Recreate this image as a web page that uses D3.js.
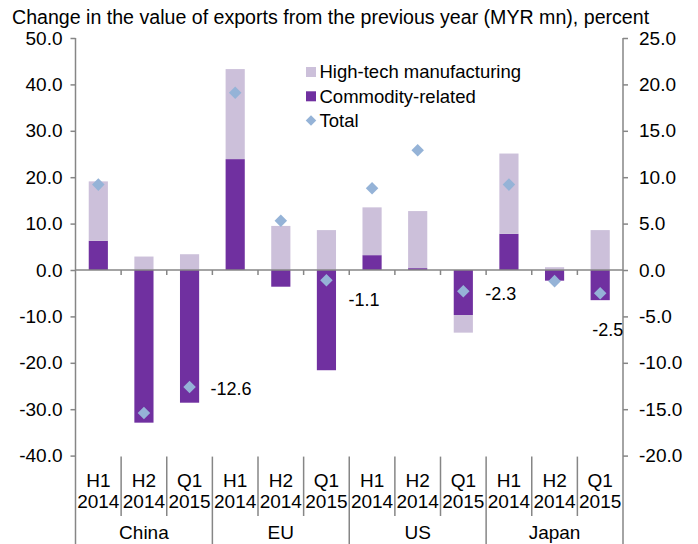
<!DOCTYPE html>
<html>
<head>
<meta charset="utf-8">
<script src="https://cdn.jsdelivr.net/npm/d3@7"></script>
<style>
  body { margin: 0; background: #fff; }
  svg text { font-family: Arial, "Liberation Sans", sans-serif; fill: #000; }
</style>
</head>
<body>
<div id="chart"></div>
<script>
// regions and periods
const groups = ["China", "EU", "US", "Japan"];
const periods = [["H1", "2014"], ["H2", "2014"], ["Q1", "2015"]];

// values (left axis, percent)
const commodity = [6.3, -32.9, -28.6, 23.9, -3.6, -21.6, 3.2, 0.4, -9.7, 7.8, -2.3, -6.5];
const highTech = [12.8, 2.9, 3.4, 19.4, 9.5, 8.6, 10.3, 12.3, -3.8, 17.3, 0.6, 8.6];
// total, right axis
const total = [9.2, -15.4, -12.6, 19.1, 5.3, -1.1, 8.8, 12.9, -2.3, 9.2, -1.2, -2.5];

const leftTicks = [-40, -30, -20, -10, 0, 10, 20, 30, 40, 50];
const rightTicks = [-20, -15, -10, -5, 0, 5, 10, 15, 20, 25];

const W = 698, H = 544;
const colHigh = "#ccc0da", colComm = "#7030a0", colTotal = "#95b3d7", axisCol = "#868686";

// plain hyphen for negatives, like the original
const fmt = d3.formatLocale({ decimal: ".", thousands: ",", grouping: [3], currency: ["", ""], minus: "-" }).format(".1f");

const svg = d3.select("#chart").append("svg").attr("width", W).attr("height", H);

const keys = [];
groups.forEach(g => periods.forEach(p => keys.push(g + " " + p.join(" "))));

const rows = keys.map((k, i) => ({ key: k, commodity: commodity[i], highTech: highTech[i], total: total[i] }));

const x = d3.scaleBand().domain(keys).range([75.5, 623]).paddingInner(0.58).paddingOuter(0.29);
const y = d3.scaleLinear().domain([-40, 50]).range([455.6, 38]);
const y2 = d3.scaleLinear().domain([-20, 25]).range([455.6, 38]);

const x0 = x.range()[0], step = x.step();
const bound = i => x0 + i * step;

// title
svg.append("text").attr("x", 12).attr("y", 24).style("font-size", "19.6px")
  .text("Change in the value of exports from the previous year (MYR mn), percent");

// stacked bars
const stack = d3.stack().keys(["commodity", "highTech"]).offset(d3.stackOffsetDiverging)(rows);
const colors = { commodity: colComm, highTech: colHigh };

svg.append("g").selectAll("g").data(stack).join("g")
  .attr("fill", d => colors[d.key])
  .selectAll("rect").data(d => d).join("rect")
  .attr("x", d => x(d.data.key))
  .attr("width", x.bandwidth())
  .attr("y", d => y(Math.max(d[0], d[1])))
  .attr("height", d => Math.abs(y(d[0]) - y(d[1])));

// zero line + small ticks
const zeroG = svg.append("g").attr("stroke", axisCol).attr("stroke-width", 1.5);
zeroG.append("line").attr("x1", x0).attr("x2", x.range()[1]).attr("y1", y(0)).attr("y2", y(0));
zeroG.selectAll(".zt").data(d3.range(1, keys.length)).join("line")
  .attr("x1", bound).attr("x2", bound).attr("y1", y(0)).attr("y2", y(0) + 5);

// left axis
const axL = svg.append("g").attr("transform", `translate(${x0},0)`)
  .call(d3.axisLeft(y).tickValues(leftTicks).tickFormat(fmt).tickSize(5).tickPadding(8).tickSizeOuter(0));
// right axis
const axR = svg.append("g").attr("transform", `translate(${x.range()[1]},0)`)
  .call(d3.axisRight(y2).tickValues(rightTicks).tickFormat(fmt).tickSize(5).tickPadding(11).tickSizeOuter(0));
[axL, axR].forEach(a => {
  a.select(".domain").remove();
  a.selectAll(".tick line").attr("stroke", axisCol).attr("stroke-width", 1.5);
  a.selectAll(".tick text").style("font-size", "19px").attr("fill", "#000");
});

// vertical axis lines down to the bottom
const vG = svg.append("g").attr("stroke", axisCol).attr("stroke-width", 1.5);
vG.append("line").attr("x1", x0).attr("x2", x0).attr("y1", 38).attr("y2", H);
vG.append("line").attr("x1", x.range()[1]).attr("x2", x.range()[1]).attr("y1", 38).attr("y2", H);
// separators below plot
vG.selectAll(".sep").data(d3.range(1, keys.length)).join("line")
  .attr("x1", bound).attr("x2", bound)
  .attr("y1", y(-40) + 1)
  .attr("y2", i => (i % 3 === 0 ? H : 516));

// category labels
const catG = svg.append("g").attr("text-anchor", "middle").style("font-size", "19px");
keys.forEach((k, i) => {
  const cx = x(k) + x.bandwidth() / 2;
  const p = periods[i % 3];
  catG.append("text").attr("x", cx).attr("y", 480).attr("dy", "0.35em").text(p[0]);
  catG.append("text").attr("x", cx).attr("y", 501).attr("dy", "0.35em").text(p[1]);
});
groups.forEach((g, j) => {
  catG.append("text").attr("x", (bound(j * 3) + bound(j * 3 + 3)) / 2).attr("y", 538.5).text(g);
});

// total diamonds
const diamond = d3.symbol().type(d3.symbolDiamond2).size(100);
svg.append("g").selectAll("path").data(rows).join("path")
  .attr("d", diamond)
  .attr("fill", colTotal)
  .attr("transform", d => `translate(${x(d.key) + x.bandwidth() / 2},${y2(d.total)})`);

// data labels for Q1 2015 totals
const labelIdx = [2, 5, 8, 11];
const labelOff = [[21, 2], [22, 19], [22, 2], [-8, 36]];
svg.append("g").style("font-size", "18px").selectAll("text").data(labelIdx).join("text")
  .attr("x", (d, i) => x(keys[d]) + x.bandwidth() / 2 + labelOff[i][0])
  .attr("y", (d, i) => y2(total[d]) + labelOff[i][1])
  .attr("dy", "0.35em")
  .text(d => fmt(total[d]));

// legend
const legend = [
  { label: "High-tech manufacturing", color: colHigh, type: "rect" },
  { label: "Commodity-related", color: colComm, type: "rect" },
  { label: "Total", color: colTotal, type: "diamond" }
];
const lg = svg.append("g").attr("transform", "translate(311,71)");
legend.forEach((d, i) => {
  const row = lg.append("g").attr("transform", `translate(0,${i * 24.3})`);
  if (d.type === "rect") {
    row.append("rect").attr("x", -5).attr("y", -4).attr("width", 10).attr("height", 10).attr("fill", d.color);
  } else {
    row.append("path").attr("d", d3.symbol().type(d3.symbolDiamond2).size(70)).attr("transform", "translate(0,1)").attr("fill", d.color);
  }
  row.append("text").attr("x", 8.5).attr("y", 1).attr("dy", "0.35em").style("font-size", "18.5px").text(d.label);
});
</script>
</body>
</html>
